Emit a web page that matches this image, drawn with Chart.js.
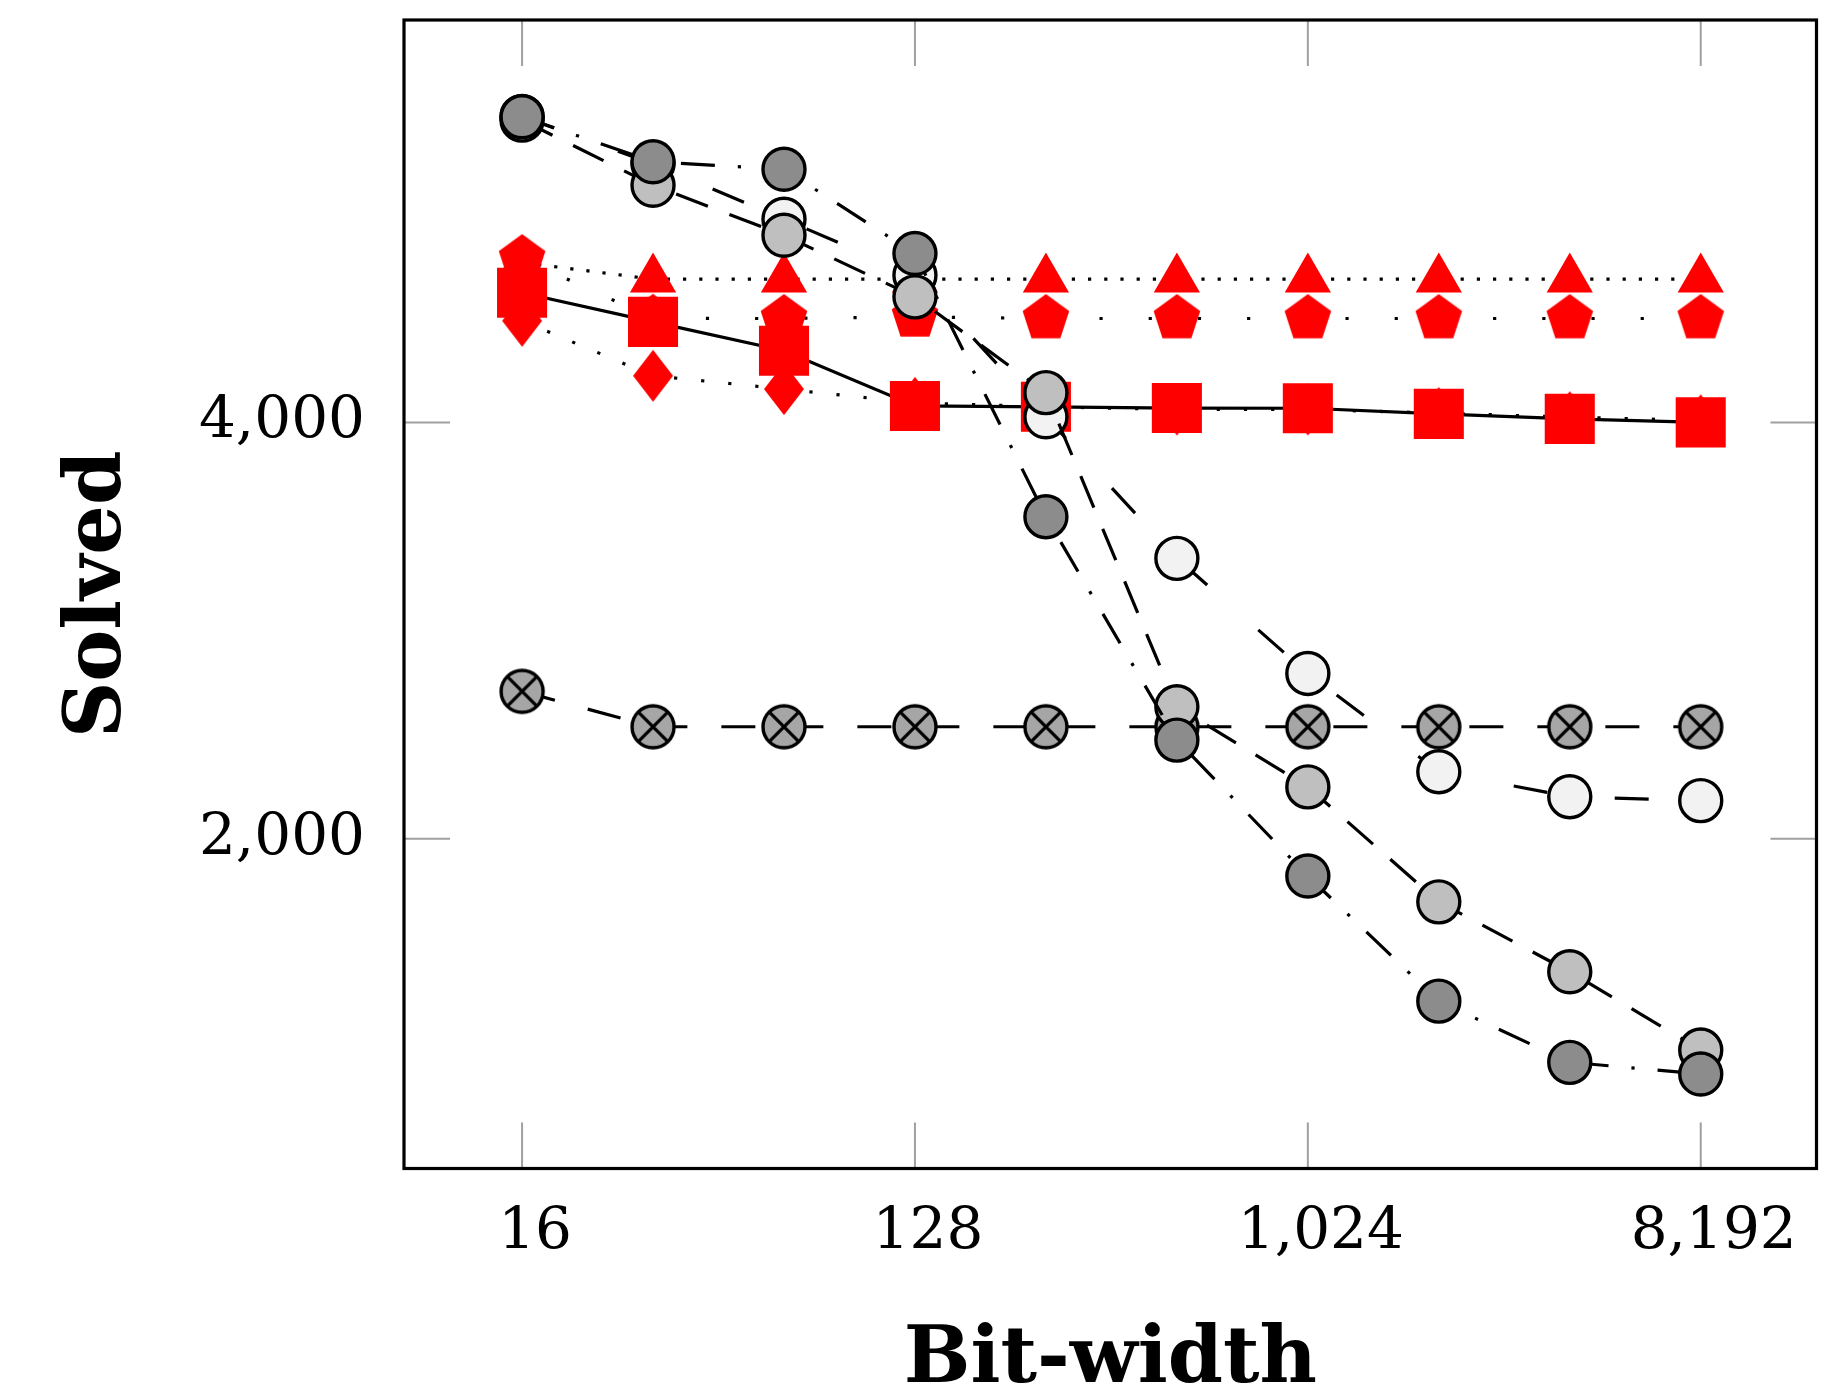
<!DOCTYPE html>
<html>
<head>
<meta charset="utf-8">
<script src="https://cdn.jsdelivr.net/npm/chart.js@4.4.1/dist/chart.umd.min.js"></script>
<style>
  html, body { margin: 0; padding: 0; background: #fff; }
  #wrap { width: 1834px; height: 1387px; }
</style>
</head>
<body>
<div id="wrap"><canvas id="chart" width="1834" height="1387"></canvas></div>
<script>
// categories / ticks
var bitWidths = [16, 32, 64, 128, 256, 512, 1024, 2048, 4096, 8192];
var xTicks = [16, 128, 1024, 8192];
var yTicks = [2000, 4000];

// solved instances per configuration
var solvedDark      = [5468, 5252, 5216, 4811, 3547, 2474, 1821, 1220, 926, 870];
var solvedLight     = [5452, 5139, 4899, 4603, 4143, 2634, 2249, 1697, 1361, 985];
var solvedPale      = [5470, 5242, 4976, 4707, 4027, 3347, 2794, 2322, 2202, 2183];
var solvedCrossed   = [2708, 2538, 2538, 2538, 2538, 2538, 2538, 2538, 2538, 2538];
var solvedSquare    = [4623, 4483, 4344, 4079, 4075, 4069, 4068, 4041, 4017, 4000];
var solvedDiamond   = [4488, 4224, 4160, 4094, 4075, 4062, 4062, 4045, 4025, 4010];
var solvedPentagon  = [4787, 4500, 4499, 4507, 4499, 4499, 4499, 4499, 4499, 4499];
var solvedTriangle  = [4768, 4688, 4688, 4688, 4688, 4688, 4688, 4688, 4688, 4688];

var RED = '#ff0000';
var LW = 3.2;

function pts(vals) {
  return vals.map(function (v, i) { return { x: bitWidths[i], y: v }; });
}

// small canvases used as point styles for the marks Chart.js has no shape for
function mark(w, h, draw) {
  var c = document.createElement('canvas');
  c.width = w; c.height = h;
  draw(c.getContext('2d'), w / 2, h / 2);
  return c;
}

var pentagonMark = mark(50, 50, function (g, cx, cy) {
  var r = 24.5;
  g.beginPath();
  for (var i = 0; i < 5; i++) {
    var a = -Math.PI / 2 + i * 2 * Math.PI / 5;
    g.lineTo(cx + r * Math.cos(a), cy + r * Math.sin(a));
  }
  g.closePath();
  g.fillStyle = RED;
  g.fill();
});

var diamondMark = mark(42, 54, function (g, cx, cy) {
  g.beginPath();
  g.moveTo(cx, cy - 26);
  g.lineTo(cx + 20, cy);
  g.lineTo(cx, cy + 26);
  g.lineTo(cx - 20, cy);
  g.closePath();
  g.fillStyle = RED;
  g.fill();
});

var crossedMark = mark(50, 50, function (g, cx, cy) {
  var r = 21, d = r * Math.SQRT1_2;
  g.beginPath();
  g.arc(cx, cy, r, 0, Math.PI * 2);
  g.fillStyle = '#a6a6a6';
  g.fill();
  g.lineWidth = 3.4;
  g.strokeStyle = '#000';
  g.stroke();
  g.beginPath();
  g.moveTo(cx - d, cy - d); g.lineTo(cx + d, cy + d);
  g.moveTo(cx + d, cy - d); g.lineTo(cx - d, cy + d);
  g.lineWidth = 3.2;
  g.stroke();
});

function circleSet(vals, fill, dash) {
  return {
    data: pts(vals),
    borderColor: '#000',
    borderWidth: LW,
    borderDash: dash,
    pointStyle: 'circle',
    pointRadius: 21,
    pointBorderWidth: 3.4,
    pointBorderColor: '#000',
    pointBackgroundColor: fill
  };
}

function redSet(vals, style, radius, dash) {
  return {
    data: pts(vals),
    borderColor: '#000',
    borderWidth: LW,
    borderDash: dash,
    pointStyle: style,
    pointRadius: radius,
    pointBorderWidth: 0,
    pointBackgroundColor: RED,
    pointBorderColor: RED
  };
}

// index 0 is painted last (on top)
var datasets = [
  circleSet(solvedDark, '#8c8c8c', [34, 23, LW, 23]),
  circleSet(solvedLight, '#bfbfbf', [34, 23]),
  circleSet(solvedPale, '#f2f2f2', [34, 68]),
  {
    data: pts(solvedCrossed),
    borderColor: '#000',
    borderWidth: LW,
    borderDash: [34, 34],
    pointStyle: crossedMark,
    pointRadius: 21
  },
  redSet(solvedSquare, 'rect', 35.4, []),
  redSet(solvedDiamond, diamondMark, 20, [LW, 24]),
  redSet(solvedPentagon, pentagonMark, 20, [LW, 46]),
  redSet(solvedTriangle, 'triangle', 26.7, [LW, 13])
];

// tick marks inside the frame and the frame itself
var framePlugin = {
  id: 'frame',
  beforeDatasetsDraw: function (chart) {
    var ctx = chart.ctx, a = chart.chartArea;
    var sx = chart.scales.x, sy = chart.scales.y;
    ctx.save();
    ctx.strokeStyle = '#a0a0a0';
    ctx.lineWidth = 2;
    ctx.beginPath();
    xTicks.forEach(function (v) {
      var p = sx.getPixelForValue(v);
      ctx.moveTo(p, a.bottom); ctx.lineTo(p, a.bottom - 46);
      ctx.moveTo(p, a.top); ctx.lineTo(p, a.top + 46);
    });
    yTicks.forEach(function (v) {
      var p = sy.getPixelForValue(v);
      ctx.moveTo(a.left, p); ctx.lineTo(a.left + 46, p);
      ctx.moveTo(a.right, p); ctx.lineTo(a.right - 46, p);
    });
    ctx.stroke();
    ctx.restore();
  },
  afterDatasetsDraw: function (chart) {
    var ctx = chart.ctx, a = chart.chartArea;
    ctx.save();
    ctx.strokeStyle = '#000';
    ctx.lineWidth = 3.2;
    ctx.strokeRect(a.left, a.top, a.right - a.left, a.bottom - a.top);
    ctx.restore();
  }
};

function fmt(v) { return Number(v).toLocaleString('en-US'); }

function noPad(s) {
  s.paddingLeft = 0; s.paddingRight = 0; s.paddingTop = 0; s.paddingBottom = 0;
}

new Chart(document.getElementById('chart'), {
  type: 'line',
  data: { datasets: datasets },
  plugins: [framePlugin],
  options: {
    responsive: false,
    animation: false,
    devicePixelRatio: 1,
    layout: { autoPadding: false, padding: { left: 0, right: 17.5, top: 20, bottom: 0 } },
    plugins: { legend: { display: false }, tooltip: { enabled: false } },
    elements: { line: { tension: 0, fill: false } },
    scales: {
      x: {
        type: 'logarithmic',
        min: Math.pow(2, 3.0985),
        max: Math.pow(2, 13.884),
        grid: { display: false, drawTicks: false },
        border: { display: false },
        afterBuildTicks: function (s) {
          s.ticks = xTicks.map(function (v) { return { value: v }; });
        },
        afterFit: function (s) { s.height = 218.5; noPad(s); },
        ticks: {
          autoSkip: false,
          maxRotation: 0,
          padding: 30,
          labelOffset: 13,
          color: '#000',
          font: { family: 'DejaVu Serif', size: 58 },
          callback: function (v) { return fmt(v); }
        },
        title: {
          display: true,
          text: 'Bit-width',
          color: '#000',
          font: { family: 'DejaVu Serif', size: 79, weight: 'bold', lineHeight: 0.65 },
          padding: { top: 0, bottom: 0 }
        }
      },
      y: {
        type: 'linear',
        min: 416,
        max: 5933,
        grid: { display: false, drawTicks: false },
        border: { display: false },
        afterBuildTicks: function (s) {
          s.ticks = yTicks.map(function (v) { return { value: v }; });
        },
        afterFit: function (s) { s.width = 404; noPad(s); },
        ticks: {
          padding: 39,
          color: '#000',
          font: { family: 'DejaVu Serif', size: 58 },
          callback: function (v) { return fmt(v); }
        },
        title: {
          display: true,
          text: 'Solved',
          color: '#000',
          font: { family: 'DejaVu Serif', size: 78, weight: 'bold', lineHeight: 1 },
          padding: { top: 61, bottom: 0 }
        }
      }
    }
  }
});
</script>
</body>
</html>
